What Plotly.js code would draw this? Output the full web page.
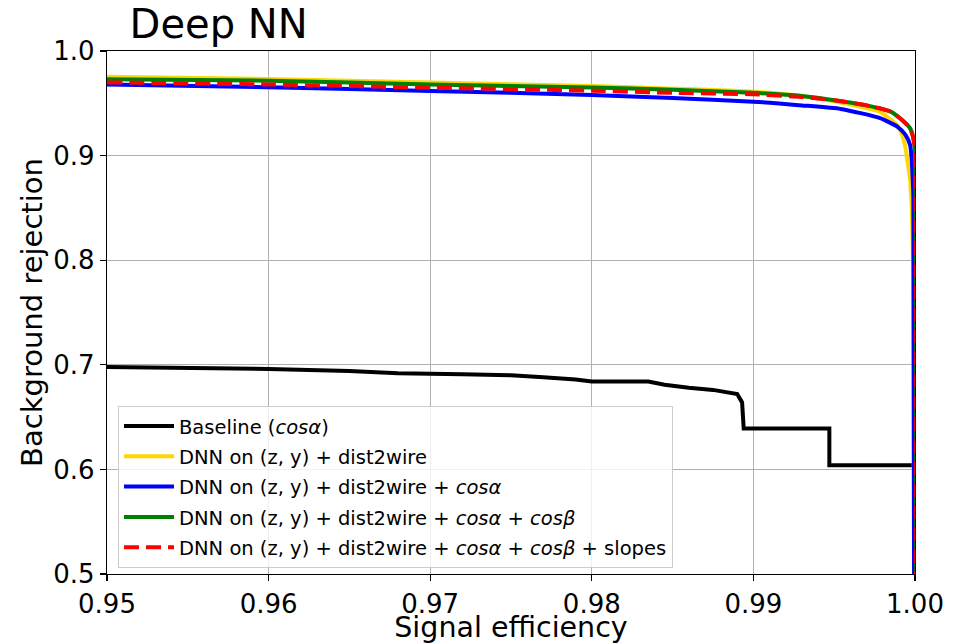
<!DOCTYPE html>
<html>
<head>
<meta charset="utf-8">
<script src="https://cdn.plot.ly/plotly-3.0.1.min.js"></script>
<style>html,body{margin:0;padding:0;background:#fff;}#chart{width:954px;height:644px;}</style>
</head>
<body>
<div id="chart"></div>
<script>
// Baseline (cos alpha)
const baseX = [0.95, 0.955, 0.96, 0.965, 0.968, 0.972, 0.975, 0.977, 0.979, 0.98, 0.9835, 0.9845, 0.986, 0.9875, 0.9885, 0.989, 0.9893, 0.9894, 0.9947, 0.9947, 1.0];
const baseY = [0.698, 0.697, 0.696, 0.694, 0.692, 0.691, 0.690, 0.688, 0.686, 0.684, 0.684, 0.681, 0.678, 0.676, 0.673, 0.672, 0.664, 0.639, 0.639, 0.604, 0.604];

// DNN on (z, y) + dist2wire
const yelX = [0.95, 0.96, 0.97, 0.98, 0.985, 0.99, 0.993, 0.995, 0.9978, 0.9989, 0.9992, 0.9994, 0.99955, 0.9997, 0.99975, 0.9998, 0.99985, 0.9999, 1.0];
const yelY = [0.9755, 0.9732, 0.970, 0.9665, 0.964, 0.961, 0.957, 0.952, 0.942, 0.929, 0.920, 0.9085, 0.893, 0.877, 0.864, 0.850, 0.820, 0.780, 0.0];

// DNN on (z, y) + dist2wire + cos alpha
const bluX = [0.95, 0.96, 0.97, 0.98, 0.985, 0.99, 0.993, 0.9954, 0.9978, 0.9989, 0.9994, 0.9997, 0.9998, 0.99985, 0.9999, 1.0];
const bluY = [0.968, 0.9653, 0.9618, 0.958, 0.955, 0.9516, 0.948, 0.9446, 0.936, 0.9277, 0.920, 0.910, 0.8956, 0.880, 0.860, 0.0];

// DNN on (z, y) + dist2wire + cos alpha + cos beta
const grnX = [0.95, 0.96, 0.97, 0.98, 0.985, 0.99, 0.993, 0.995, 0.997, 0.9985, 0.9992, 0.9997, 0.9999, 1.0, 1.0];
const grnY = [0.973, 0.9716, 0.968, 0.965, 0.963, 0.960, 0.957, 0.953, 0.948, 0.942, 0.934, 0.926, 0.9165, 0.905, 0.0];

// DNN on (z, y) + dist2wire + cos alpha + cos beta + slopes
const redX = [0.95, 0.96, 0.97, 0.98, 0.985, 0.99, 0.993, 0.995, 0.997, 0.9985, 0.9992, 0.9997, 0.9999, 1.0, 1.0];
const redY = [0.970, 0.968, 0.965, 0.962, 0.960, 0.9586, 0.956, 0.953, 0.948, 0.942, 0.934, 0.926, 0.9165, 0.905, 0.0];

const seriesNames = [
  'Baseline (<i>cosα</i>)',
  'DNN on (z, y) + dist2wire',
  'DNN on (z, y) + dist2wire + <i>cosα</i>',
  'DNN on (z, y) + dist2wire + <i>cosα</i> + <i>cosβ</i>',
  'DNN on (z, y) + dist2wire + <i>cosα</i> + <i>cosβ</i> + slopes'
];
const xTicks = [0.95, 0.96, 0.97, 0.98, 0.99, 1.00];
const yTicks = [0.5, 0.6, 0.7, 0.8, 0.9, 1.0];

const FONT = 'DejaVu Sans, sans-serif';

function tr(x, y, name, color, dash, g, shape) {
  const line = {color: color, width: 4, dash: dash, shape: shape};
  if (shape === 'spline') line.smoothing = 0.5;
  return {x: x, y: y, name: name, type: 'scatter', mode: 'lines', line: line, legendgroup: g};
}

const data = [
  tr(baseX, baseY, seriesNames[0], '#000000', 'solid', 'a', 'linear'),
  tr(yelX, yelY, seriesNames[1], '#FFD700', 'solid', 'b', 'spline'),
  tr(bluX, bluY, seriesNames[2], '#0000FF', 'solid', 'c', 'spline'),
  tr(grnX, grnY, seriesNames[3], '#008000', 'solid', 'd', 'spline'),
  tr(redX, redY, seriesNames[4], '#FF0000', '15px,7px', 'e', 'spline')
];

const axisCommon = {
  showgrid: true, gridcolor: '#b0b0b0', gridwidth: 1,
  showline: true, linecolor: '#000', linewidth: 1.3, mirror: true,
  ticks: 'outside', ticklen: 6, tickcolor: '#000', tickwidth: 1.3,
  zeroline: false, tickfont: {family: FONT, size: 26, color: '#000'}
};

const layout = {
  width: 954, height: 644,
  margin: {l: 107, r: 39, t: 51, b: 70},
  paper_bgcolor: '#fff', plot_bgcolor: '#fff',
  font: {family: FONT, color: '#000'},
  title: {text: 'Deep NN', font: {family: FONT, size: 40, color: '#000'},
    xref: 'paper', x: 0.028, xanchor: 'left', yref: 'container', y: 0.962, yanchor: 'middle'},
  xaxis: Object.assign({}, axisCommon, {
    range: [0.95, 1.0], tickvals: xTicks, tickformat: '.2f',
    title: {text: 'Signal efficiency', font: {family: FONT, size: 28.5, color: '#000'}, standoff: 9}
  }),
  yaxis: Object.assign({}, axisCommon, {
    range: [0.5, 1.0], tickvals: yTicks, tickformat: '.1f',
    title: {text: 'Background rejection', font: {family: FONT, size: 29, color: '#000'}, standoff: 2}
  }),
  showlegend: true,
  legend: {
    x: 0.0136, y: 0.012, xanchor: 'left', yanchor: 'bottom',
    bgcolor: 'rgba(255,255,255,0.8)', bordercolor: '#cccccc', borderwidth: 1,
    font: {family: FONT, size: 19.5, color: '#000'},
    traceorder: 'grouped', tracegroupgap: 2, itemwidth: 50
  }
};

Plotly.newPlot('chart', data, layout, {displayModeBar: false, staticPlot: true});
</script>
</body>
</html>
